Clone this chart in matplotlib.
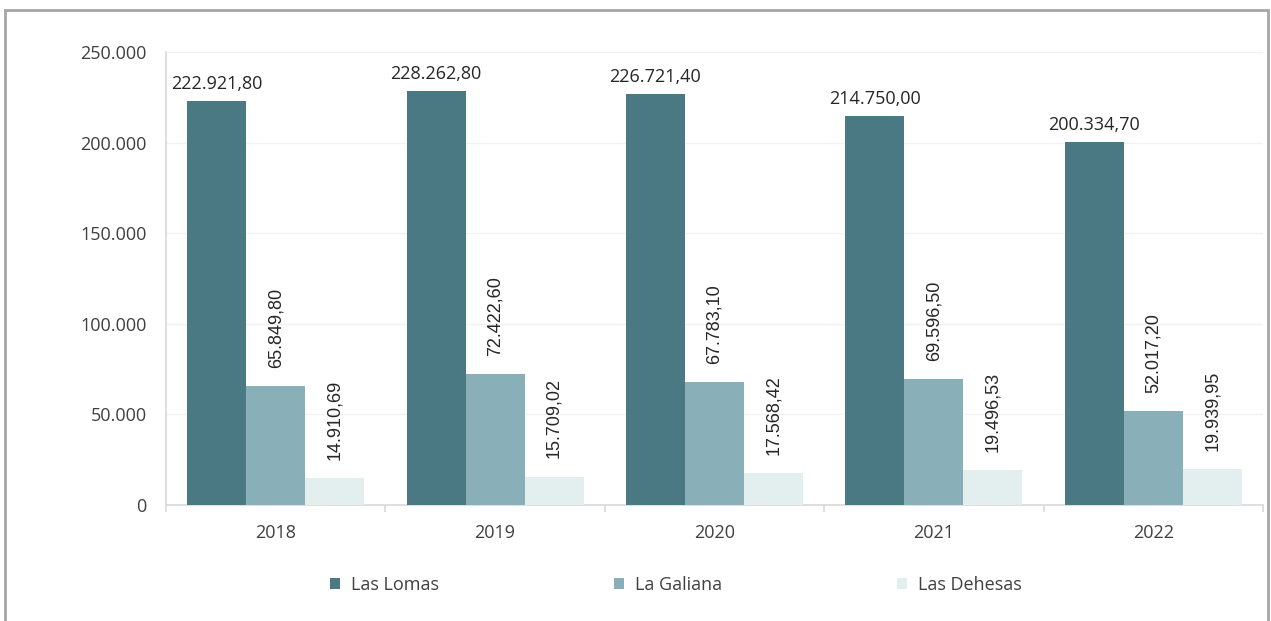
import matplotlib
matplotlib.use("Agg")
import matplotlib.pyplot as plt
from matplotlib.patches import Rectangle
import numpy as np

years = ["2018", "2019", "2020", "2021", "2022"]
series_names = ["Las Lomas", "La Galiana", "Las Dehesas"]
las_lomas = [222921.80, 228262.80, 226721.40, 214750.00, 200334.70]
la_galiana = [65849.80, 72422.60, 67783.10, 69596.50, 52017.20]
las_dehesas = [14910.69, 15709.02, 17568.42, 19496.53, 19939.95]
colors = ["#4A7983", "#89AFB9", "#E3EFEF"]
yticks = [0, 50000, 100000, 150000, 200000, 250000]
ytick_labels = ["0", "50.000", "100.000", "150.000", "200.000", "250.000"]

def fmt(v):
    s = f"{v:,.2f}"
    return s.replace(",", "X").replace(".", ",").replace("X", ".")

W, H = 1271, 621
fig = plt.figure(figsize=(W / 100, H / 100), dpi=100)
fig.patch.set_facecolor("white")

# outer border
fig.add_artist(Rectangle((5 / W, -0.05), (1268 - 5) / W, 1.05 - 10 / H,
                         transform=fig.transFigure, fill=False,
                         edgecolor="#A6A6A6", linewidth=2))

ax = fig.add_axes([166 / W, 1 - 505 / H, (1263 - 166) / W, (505 - 52) / H])
ax.set_xlim(-0.5, 4.5)
ax.set_ylim(0, 250000)

font = "Open Sans"
txtc = "#404040"
fs = 13
w = 0.269
x = np.arange(len(years))
data = [las_lomas, la_galiana, las_dehesas]
for i, (vals, name, c) in enumerate(zip(data, series_names, colors)):
    pos = x + (i - 1) * w
    ax.bar(pos, vals, width=w, color=c, label=name, zorder=3)
    for px, v in zip(pos, vals):
        if i == 0:
            ax.annotate(fmt(v), (px, v), xytext=(0, 6), textcoords="offset points",
                        ha="center", va="bottom", fontsize=fs, color="#262626",
                        family=font)
        else:
            ax.annotate(fmt(v), (px, v), xytext=(0, 13), textcoords="offset points",
                        ha="center", va="bottom", rotation=90, fontsize=13,
                        color="#262626", family="Liberation Sans")

ax.set_yticks(yticks)
ax.set_yticklabels(ytick_labels, family=font, fontsize=fs, color=txtc)
ax.set_xticks(x)
ax.set_xticklabels(years, family=font, fontsize=fs, color=txtc)
ax.tick_params(axis="y", length=0, pad=14)
ax.tick_params(axis="x", which="major", length=0, pad=14)
ax.set_xticks(np.arange(-0.5, 5, 1.0), minor=True)
ax.tick_params(axis="x", which="minor", length=5, color="#D9D9D9", width=1.2)
ax.grid(axis="y", color="#F2F2F2", linewidth=1, zorder=0)
for s in ["top", "right"]:
    ax.spines[s].set_visible(False)
for s in ["left", "bottom"]:
    ax.spines[s].set_color("#D9D9D9")
    ax.spines[s].set_linewidth(1.2)

leg = fig.legend(loc="center", bbox_to_anchor=(676 / W, 1 - 585 / H), ncol=3,
                 frameon=False, handlelength=0.55, handleheight=0.6,
                 handletextpad=0.6, columnspacing=9.7,
                 prop={"family": font, "size": fs})
for t in leg.get_texts():
    t.set_color(txtc)

fig.savefig("out.png", dpi=100)
